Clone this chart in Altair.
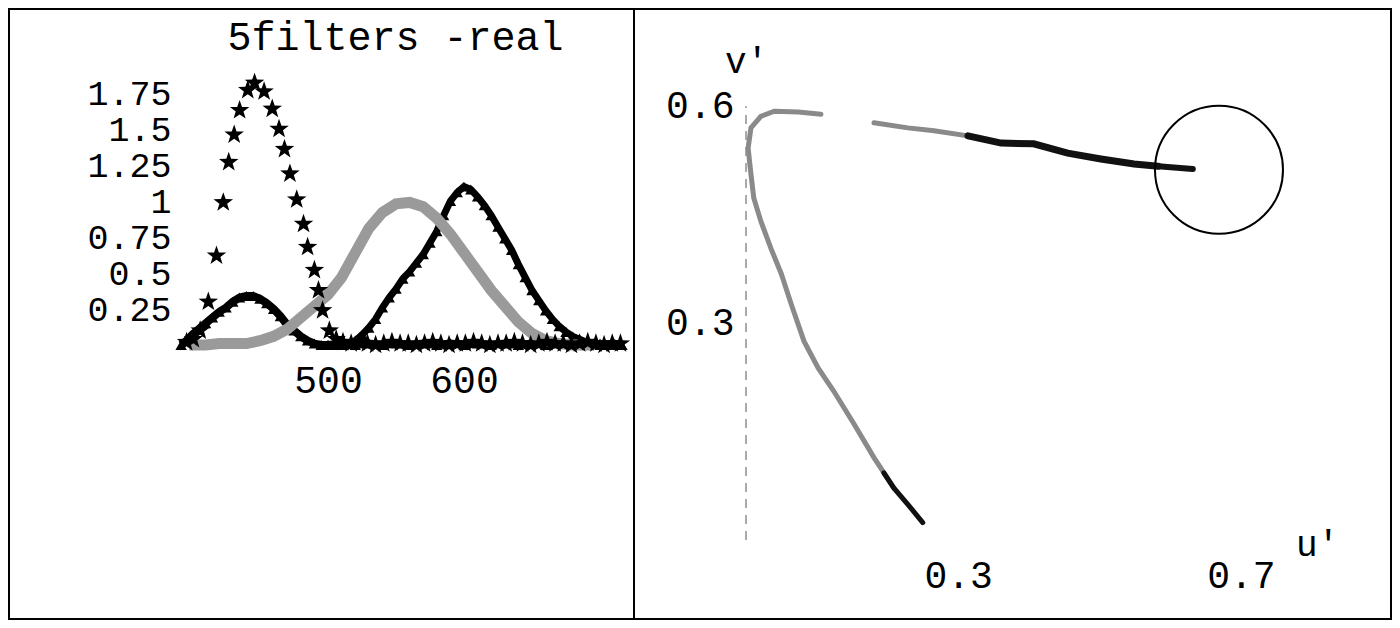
import altair as alt
import pandas as pd

FONT = "Liberation Mono"

# ---------------- left panel: "5filters -real" ----------------
left_title = "5filters -real"
left_y_ticks = [0.25, 0.5, 0.75, 1, 1.25, 1.5, 1.75]
left_x_ticks = [500, 600]

# star-marked filter (blue peak + low tail)
star_wl = [396, 401, 406, 412, 418, 423, 427, 431, 435, 441, 446, 453, 459, 464,
           468, 472, 477, 482, 485, 490, 493, 496, 501, 506, 511,
           517, 523, 529, 535, 541, 547, 553, 559, 565, 571, 577, 583, 589, 595,
           601, 607, 613, 619, 625, 631, 637, 643, 649, 655, 661, 667, 673, 679,
           685, 691, 697, 703, 709, 715]
star_val = [0.02, 0.04, 0.10, 0.30, 0.62, 0.99, 1.27, 1.46, 1.63, 1.77, 1.82, 1.76,
            1.64, 1.50, 1.36, 1.19, 1.01, 0.84, 0.68, 0.52, 0.38, 0.24, 0.10, 0.04, 0.02,
            0.01, 0.02, 0.01, 0.0, 0.01, 0.02, 0.01, 0.01, 0.0, 0.01,
            0.02, 0.01, 0.0, 0.01, 0.01, 0.02, 0.01, 0.0, 0.01, 0.01,
            0.02, 0.01, 0.0, 0.01, 0.02, 0.01, 0.01, 0.0, 0.01, 0.02,
            0.01, 0.0, 0.01, 0.01]

# small violet hump (black, triangle-marked)
hump_wl = [392, 396, 400, 405, 410, 415, 420, 425, 430, 435, 440, 445, 450, 455, 460,
           465, 470, 475, 480, 485, 490, 495, 500,
           510, 520, 530, 540, 550, 560, 570, 580, 590, 600, 610, 620, 630, 640, 650,
           660, 670, 680, 690, 700, 710, 716]
hump_val = [0.0, 0.03, 0.07, 0.11, 0.15, 0.19, 0.23, 0.26, 0.30, 0.33, 0.34, 0.34, 0.32,
            0.29, 0.25, 0.20, 0.14, 0.10, 0.06, 0.03, 0.01, 0.0, 0.0,
            0.01, 0.0, 0.01, 0.0, 0.01, 0.0, 0.01, 0.0, 0.01, 0.0, 0.01, 0.0, 0.01,
            0.0, 0.01, 0.0, 0.01, 0.0, 0.01, 0.0, 0.01, 0.0]

# red filter (black, triangle-marked)
tri_wl = [500, 505, 510, 515, 520, 525, 530, 535, 540, 545, 550, 555, 560, 565, 570,
          575, 580, 585, 590, 595, 600, 605, 610, 615, 620, 625, 630, 635, 640, 645,
          650, 655, 660, 665, 670, 675, 680, 685, 690, 695, 700, 705, 710, 716]
tri_val = [0.0, 0.0, 0.0, 0.01, 0.03, 0.07, 0.12, 0.18, 0.26, 0.33, 0.39, 0.46, 0.51,
           0.57, 0.63, 0.71, 0.79, 0.90, 1.00, 1.06, 1.10, 1.08, 1.03, 0.97, 0.90,
           0.82, 0.74, 0.66, 0.56, 0.47, 0.38, 0.31, 0.24, 0.18, 0.13, 0.09, 0.06,
           0.04, 0.02, 0.01, 0.01, 0.0, 0.0, 0.0]

# green filter (grey stippled line)
gray_wl = [398, 410, 420, 430, 440, 450, 460, 470, 480, 490, 500, 510, 520, 530, 540,
           550, 560, 570, 580, 590, 600, 610, 620, 630, 640, 650, 660, 670, 680, 690, 696]
gray_val = [0.0, 0.0, 0.01, 0.01, 0.01, 0.03, 0.06, 0.11, 0.19, 0.27, 0.35, 0.47, 0.64,
            0.81, 0.92, 0.98, 0.99, 0.96, 0.88, 0.77, 0.64, 0.51, 0.38, 0.27, 0.16,
            0.08, 0.03, 0.01, 0.0, 0.0, 0.0]

# ---------------- right panel: u'v' locus ----------------
right_x_ticks = [0.3, 0.7]
right_y_ticks = [0.3, 0.6]

seg_dark_low_u = [0.250, 0.230, 0.209, 0.195]
seg_dark_low_v = [0.024, 0.048, 0.072, 0.093]
seg_gray_a_u = [0.209, 0.181, 0.153, 0.124, 0.102, 0.082, 0.064, 0.050, 0.035, 0.021,
                0.011, 0.007, 0.003, 0.007, 0.021, 0.040, 0.074, 0.106]
seg_gray_a_v = [0.072, 0.114, 0.160, 0.206, 0.238, 0.275, 0.326, 0.368, 0.404, 0.441,
                0.473, 0.506, 0.542, 0.570, 0.586, 0.593, 0.592, 0.589]
seg_gray_b_u = [0.181, 0.229, 0.266, 0.314, 0.340]
seg_gray_b_v = [0.577, 0.570, 0.566, 0.559, 0.554]
seg_dark_hi_u = [0.314, 0.361, 0.407, 0.455, 0.502, 0.549, 0.583]
seg_dark_hi_v = [0.559, 0.549, 0.548, 0.535, 0.527, 0.520, 0.517]
seg_stub_u = [0.583, 0.632]
seg_stub_v = [0.517, 0.513]

target_u = [0.669]
target_v = [0.512]
axis_line_u = [0.0]
axis_line_v0 = [0.0]
axis_line_v1 = [0.6]

# ---------------- build tables ----------------
rows = []
for name, wls, vals in [("stars", star_wl, star_val), ("hump", hump_wl, hump_val),
                        ("tri", tri_wl, tri_val), ("gray", gray_wl, gray_val)]:
    for w, v in zip(wls, vals, strict=True):
        rows.append({"wl": w, "val": v, "series": name})
left_df = pd.DataFrame(rows)

lrows = []
for name, us, vs in [("dark_low", seg_dark_low_u, seg_dark_low_v),
                     ("gray_a", seg_gray_a_u, seg_gray_a_v),
                     ("gray_b", seg_gray_b_u, seg_gray_b_v),
                     ("dark_hi", seg_dark_hi_u, seg_dark_hi_v),
                     ("stub", seg_stub_u, seg_stub_v)]:
    for i, (u, v) in enumerate(zip(us, vs, strict=True)):
        lrows.append({"u": u, "v": v, "seg": name, "idx": i})
locus_df = pd.DataFrame(lrows)

# ---------------- layout ----------------
LW, RW, H = 625, 757, 610

x_left = alt.Scale(domain=[265.44, 724.99], nice=False, zero=False)
y_left = alt.Scale(domain=[-(H - 336) / 144, 336 / 144], nice=False, zero=False)

common_axis = dict(grid=False, domain=False, ticks=False, tickSize=0, labelPadding=0,
                   labelFont=FONT, labelColor="black", labelOverlap=False,
                   labelFlush=False, labelBaseline="middle",
                   labelExpr="'' + datum.value")

y_axis_left = alt.Axis(values=left_y_ticks, orient="left", offset=-162, title=None,
                       labelFontSize=35, **common_axis)
# the panel title is carried by the bottom axis title, lifted to the top of the box
x_axis_left = alt.Axis(values=left_x_ticks, orient="bottom", offset=372 - H,
                       title=left_title, titleX=386, titleY=28 - 372, titleAngle=0,
                       titleAlign="center", titleBaseline="middle", titleFont=FONT,
                       titleFontSize=40, titleFontWeight="normal", titleColor="black",
                       labelFontSize=38, **common_axis)

base = alt.Chart(left_df).encode(
    x=alt.X("wl:Q", scale=x_left, axis=x_axis_left),
    y=alt.Y("val:Q", scale=y_left, axis=y_axis_left),
)

STAR = ("M0,-1L0.235,-0.324L0.951,-0.309L0.38,0.124L0.588,0.809L0,0.4"
        "L-0.588,0.809L-0.38,0.124L-0.951,-0.309L-0.235,-0.324Z")

tri_line = base.transform_filter("datum.series == 'tri'").mark_line(color="black", strokeWidth=7)
tri_pts = base.transform_filter("datum.series == 'tri'").mark_point(
    shape="triangle-up", filled=True, color="black", size=130, opacity=1)
hump_line = base.transform_filter("datum.series == 'hump'").mark_line(color="black", strokeWidth=8)
hump_pts = base.transform_filter("datum.series == 'hump'").mark_point(
    shape="triangle-up", filled=True, color="black", size=130, opacity=1)
gray_line = base.transform_filter("datum.series == 'gray'").mark_line(
    color="#9a9a9a", strokeWidth=11)
stars = base.transform_filter("datum.series == 'stars'").mark_point(
    shape=STAR, filled=True, color="black", size=420, opacity=1)

left = alt.layer(tri_line, tri_pts, hump_line, hump_pts, gray_line, stars).properties(
    width=LW, height=H)

x_right = alt.Scale(domain=[-112 / 707, (RW - 112) / 707], nice=False, zero=False)
y_right = alt.Scale(domain=[-(H - 531) / 723, 531 / 723], nice=False, zero=False)

y_axis_right = alt.Axis(values=right_y_ticks, orient="left", offset=-100, title="v'",
                        titleAngle=0, titleX=12, titleY=52, titleAlign="center",
                        titleBaseline="middle", titleFont=FONT, titleFontSize=36,
                        titleFontWeight="normal", titleColor="black",
                        labelFontSize=38, **common_axis)
x_axis_right = alt.Axis(values=right_x_ticks, orient="bottom", offset=567 - H, title="u'",
                        titleAngle=0, titleX=683, titleY=-32, titleAlign="center",
                        titleBaseline="middle", titleFont=FONT, titleFontSize=36,
                        titleFontWeight="normal", titleColor="black",
                        labelFontSize=38, **common_axis)

rule_df = pd.DataFrame({"u": axis_line_u, "v": axis_line_v0, "v2": axis_line_v1})
rule = alt.Chart(rule_df).mark_rule(strokeDash=[9, 7], color="#555555", strokeWidth=1).encode(
    x=alt.X("u:Q", scale=x_right, axis=x_axis_right),
    y=alt.Y("v:Q", scale=y_right, axis=y_axis_right),
    y2="v2:Q",
)


def seg_layer(name, color, width):
    return alt.Chart(locus_df).transform_filter(f"datum.seg == '{name}'").mark_line(
        color=color, strokeWidth=width, strokeCap="round").encode(
        x=alt.X("u:Q", scale=x_right, axis=x_axis_right),
        y=alt.Y("v:Q", scale=y_right, axis=y_axis_right),
        order="idx:Q",
    )


seg_layers = [
    seg_layer("gray_a", "#8a8a8a", 5),
    seg_layer("gray_b", "#8a8a8a", 5),
    seg_layer("dark_low", "#111111", 5),
    seg_layer("dark_hi", "#111111", 7),
    seg_layer("stub", "#111111", 6),
]

circle = alt.Chart(pd.DataFrame({"u": target_u, "v": target_v})).mark_point(
    shape="circle", filled=False, size=16384, stroke="black", strokeWidth=2, opacity=1
).encode(
    x=alt.X("u:Q", scale=x_right, axis=x_axis_right),
    y=alt.Y("v:Q", scale=y_right, axis=y_axis_right),
)

right = alt.layer(rule, *seg_layers, circle).properties(width=RW, height=H)

chart = alt.hconcat(left, right, spacing=0, bounds="flush").properties(
    padding=0, background="white"
).configure_view(stroke="black", strokeWidth=2)

chart.save("out.html", embed_options={"renderer": "svg", "actions": False})
